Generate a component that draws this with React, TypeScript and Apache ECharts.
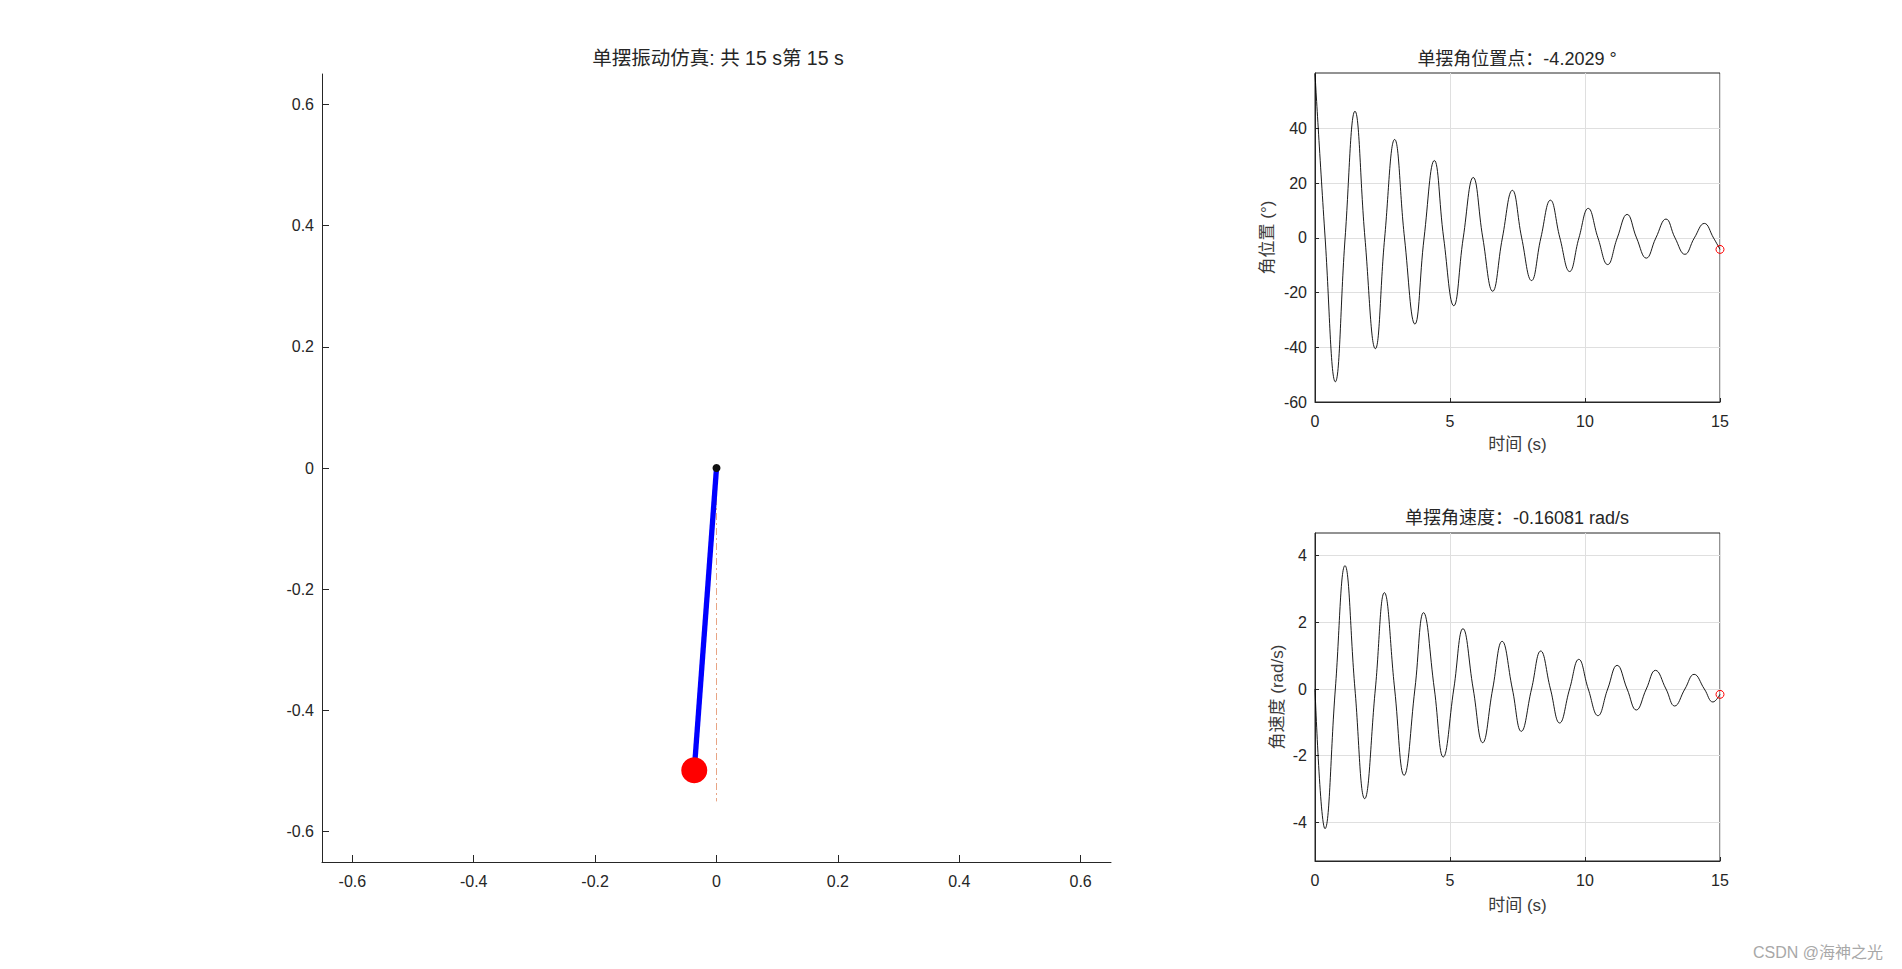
import { useEffect, useRef } from "react";
import * as echarts from "echarts";

const FONT = "'Liberation Sans', Arial, 'Noto Sans CJK SC', sans-serif";
const TEXT = "#262626";
const GRIDLINE = "#dfdfdf";

// ---- data ----
const totalTime = 15;
const currentTime = 15;
const pendulumLength = 0.5;
const currentAngleDeg = -4.2029;
const currentOmega = -0.16081;
const refLineLength = 0.55;

const spaceTicks = [-0.6, -0.4, -0.2, 0, 0.2, 0.4, 0.6];
const angleTicks = [-60, -40, -20, 0, 20, 40];
const omegaTicks = [-4, -2, 0, 2, 4];
const timeTicks = [0, 5, 10, 15];

// angular position (deg): extrema and zero crossings
const angleTime = [
  0, 0.375, 0.753, 1.115, 1.48, 1.85, 2.235, 2.58, 2.95, 3.315, 3.7, 4.04,
  4.42, 4.765, 5.14, 5.49, 5.86, 6.215, 6.58, 6.94, 7.31, 7.655, 8.02, 8.365,
  8.72, 9.07, 9.43, 9.775, 10.12, 10.48, 10.84, 11.195, 11.56, 11.91, 12.27,
  12.625, 13.0, 13.335, 13.7, 14.05, 14.42, 14.76, 15,
];
const angleDeg = [
  60, 0, -52.6, 0, 46.3, 0, -40.5, 0, 36.0, 0, -31.5, 0,
  28.3, 0, -24.8, 0, 22.1, 0, -19.5, 0, 17.4, 0, -15.6, 0,
  13.8, 0, -12.3, 0, 10.8, 0, -9.75, 0, 8.6, 0, -7.4,
  0, 6.9, 0, -6.0, 0, 5.3, 0, -4.2029,
];

// angular velocity (rad/s): extrema and zero crossings
const omegaTime = [
  0, 0.37, 0.753, 1.11, 1.48, 1.84, 2.235, 2.57, 2.95, 3.3, 3.7, 4.02,
  4.42, 4.75, 5.14, 5.48, 5.86, 6.21, 6.58, 6.93, 7.31, 7.64, 8.02, 8.36,
  8.72, 9.06, 9.43, 9.77, 10.12, 10.48, 10.84, 11.19, 11.56, 11.9, 12.27,
  12.61, 13.0, 13.32, 13.7, 14.04, 14.42, 14.74, 15,
];
const omegaVal = [
  0, -4.19, 0, 3.7, 0, -3.29, 0, 2.89, 0, -2.59, 0, 2.29,
  0, -2.04, 0, 1.81, 0, -1.61, 0, 1.43, 0, -1.27, 0, 1.14,
  0, -1.02, 0, 0.89, 0, -0.8, 0, 0.71, 0, -0.63, 0,
  0.56, 0, -0.51, 0, 0.44, 0, -0.39, -0.16081,
];

const fmt = (v: number) => String(Math.round(v * 100) / 100);

export default function App() {
  const ref = useRef<HTMLDivElement>(null);

  useEffect(() => {
    if (!ref.current) return;
    const chart = echarts.init(ref.current, undefined, { renderer: "svg" });

    const th = (currentAngleDeg * Math.PI) / 180;
    const bobX = pendulumLength * Math.sin(th);
    const bobY = -pendulumLength * Math.cos(th);

    const angleData = angleTime.map((t, i) => [t, angleDeg[i]]);
    const omegaData = omegaTime.map((t, i) => [t, omegaVal[i]]);

    const axisText = { color: TEXT, fontSize: 16, fontFamily: FONT };
    const nameText = { color: "#3a3a3a", fontSize: 17, fontFamily: FONT };

    const timeAxis = (gridIndex: number, gap: number) => ({
      type: "value",
      gridIndex,
      min: 0,
      max: 15,
      interval: 5,
      name: "时间 (s)",
      nameLocation: "middle",
      nameGap: gap,
      nameTextStyle: nameText,
      axisLine: { show: true, onZero: false, lineStyle: { color: TEXT, width: 1 } },
      axisTick: { show: true, inside: true, length: 4, lineStyle: { color: TEXT } },
      axisLabel: { ...axisText, margin: 11, formatter: fmt, customValues: timeTicks },
      splitLine: { show: true, lineStyle: { color: GRIDLINE, width: 1 } },
    });

    const titleStyle = (text: string, size: number, fill: string) => ({
      text,
      font: `${size}px ${FONT}`,
      fill,
      textAlign: "center",
      textVerticalAlign: "middle",
      align: "center",
      verticalAlign: "middle",
    });

    const option: any = {
      animation: false,
      backgroundColor: "#ffffff",
      grid: [
        { left: 322, top: 74, width: 789, height: 788, show: false },
        {
          left: 1315,
          top: 73,
          width: 405,
          height: 329,
          show: true,
          borderColor: TEXT,
          borderWidth: 1,
          backgroundColor: "transparent",
        },
        {
          left: 1315,
          top: 533,
          width: 405,
          height: 328,
          show: true,
          borderColor: TEXT,
          borderWidth: 1,
          backgroundColor: "transparent",
        },
      ],
      xAxis: [
        {
          type: "value",
          gridIndex: 0,
          min: -0.65,
          max: 0.65,
          axisLine: { show: true, onZero: false, lineStyle: { color: TEXT, width: 1 } },
          axisTick: {
            show: true,
            inside: true,
            length: 7,
            customValues: spaceTicks,
            lineStyle: { color: TEXT },
          },
          axisLabel: { ...axisText, margin: 11, formatter: fmt, customValues: spaceTicks },
          splitLine: { show: false },
        },
        timeAxis(1, 34),
        timeAxis(2, 35.5),
      ],
      yAxis: [
        {
          type: "value",
          gridIndex: 0,
          min: -0.65,
          max: 0.65,
          axisLine: { show: true, onZero: false, lineStyle: { color: TEXT, width: 1 } },
          axisTick: {
            show: true,
            inside: true,
            length: 7,
            customValues: spaceTicks,
            lineStyle: { color: TEXT },
          },
          axisLabel: { ...axisText, margin: 8, formatter: fmt, customValues: spaceTicks },
          splitLine: { show: false },
        },
        {
          type: "value",
          gridIndex: 1,
          min: -60,
          max: 60.3,
          name: "角位置 (°)",
          nameLocation: "middle",
          nameGap: 39,
          nameTextStyle: nameText,
          axisLine: { show: true, onZero: false, lineStyle: { color: TEXT, width: 1 } },
          axisTick: {
            show: true,
            inside: true,
            length: 4,
            customValues: angleTicks,
            lineStyle: { color: TEXT },
          },
          axisLabel: { ...axisText, margin: 8, formatter: fmt, customValues: angleTicks },
          splitLine: { show: true, lineStyle: { color: GRIDLINE, width: 1 } },
        },
        {
          type: "value",
          gridIndex: 2,
          min: -5.16,
          max: 4.68,
          name: "角速度 (rad/s)",
          nameLocation: "middle",
          nameGap: 29,
          nameTextStyle: nameText,
          axisLine: { show: true, onZero: false, lineStyle: { color: TEXT, width: 1 } },
          axisTick: {
            show: true,
            inside: true,
            length: 4,
            customValues: omegaTicks,
            lineStyle: { color: TEXT },
          },
          axisLabel: { ...axisText, margin: 8, formatter: fmt, customValues: omegaTicks },
          splitLine: { show: true, lineStyle: { color: GRIDLINE, width: 1 } },
        },
      ],
      series: [
        {
          type: "line",
          xAxisIndex: 0,
          yAxisIndex: 0,
          data: [
            [0, 0],
            [0, -refLineLength],
          ],
          symbol: "none",
          lineStyle: { color: "#e8a585", width: 1, type: [7, 3, 2, 3] },
          z: 1,
        },
        {
          type: "line",
          xAxisIndex: 0,
          yAxisIndex: 0,
          data: [
            [0, 0],
            [bobX, bobY],
          ],
          symbol: "none",
          lineStyle: { color: "#0000ff", width: 5.3 },
          z: 2,
        },
        {
          type: "scatter",
          xAxisIndex: 0,
          yAxisIndex: 0,
          data: [[bobX, bobY]],
          symbol: "circle",
          symbolSize: 26,
          itemStyle: { color: "#ff0000", opacity: 1 },
          z: 3,
        },
        {
          type: "scatter",
          xAxisIndex: 0,
          yAxisIndex: 0,
          data: [[0, 0]],
          symbol: "circle",
          symbolSize: 8,
          itemStyle: { color: "#111111", opacity: 1 },
          z: 4,
        },
        {
          type: "line",
          xAxisIndex: 1,
          yAxisIndex: 1,
          data: angleData,
          smooth: 0.45,
          symbol: "none",
          lineStyle: { color: "#000000", width: 0.9 },
        },
        {
          type: "scatter",
          xAxisIndex: 1,
          yAxisIndex: 1,
          data: [[currentTime, currentAngleDeg]],
          symbol: "circle",
          symbolSize: 8,
          clip: false,
          itemStyle: { color: "rgba(0,0,0,0)", borderColor: "#ff0000", borderWidth: 1, opacity: 1 },
          z: 5,
        },
        {
          type: "line",
          xAxisIndex: 2,
          yAxisIndex: 2,
          data: omegaData,
          smooth: 0.45,
          symbol: "none",
          lineStyle: { color: "#000000", width: 0.9 },
        },
        {
          type: "scatter",
          xAxisIndex: 2,
          yAxisIndex: 2,
          data: [[currentTime, currentOmega]],
          symbol: "circle",
          symbolSize: 8,
          clip: false,
          itemStyle: { color: "rgba(0,0,0,0)", borderColor: "#ff0000", borderWidth: 1, opacity: 1 },
          z: 5,
        },
      ],
      graphic: [
        {
          type: "text",
          x: 718,
          y: 58,
          style: titleStyle(`单摆振动仿真: 共 ${totalTime} s第 ${currentTime} s`, 19.5, TEXT),
        },
        {
          type: "text",
          x: 1517,
          y: 59,
          style: titleStyle(`单摆角位置点：${currentAngleDeg} °`, 18, TEXT),
        },
        {
          type: "text",
          x: 1517,
          y: 518,
          style: titleStyle(`单摆角速度：${currentOmega} rad/s`, 18, TEXT),
        },
        {
          type: "text",
          x: 1818,
          y: 952,
          style: titleStyle("CSDN @海神之光", 16, "#a8a8a8"),
        },
      ],
    };

    chart.setOption(option);
    return () => chart.dispose();
  }, []);

  return (
    <div
      ref={ref}
      style={{ position: "fixed", left: 0, top: 0, width: 1902, height: 969, background: "#fff" }}
    />
  );
}
